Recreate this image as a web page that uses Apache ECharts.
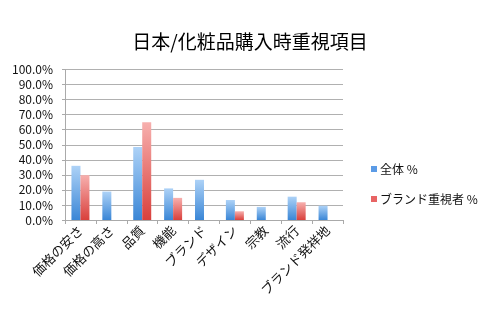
<!DOCTYPE html>
<html><head><meta charset="utf-8">
<script src="https://cdn.jsdelivr.net/npm/echarts@6/dist/echarts.min.js"></script>
<style>html,body{margin:0;padding:0;background:#fff}#c{width:500px;height:320px}</style>
</head><body><div id="c"></div>
<script>
const categories = ['価格の安さ','価格の高さ','品質','機能','ブランド','デザイン','宗教','流行','ブランド発祥地'];
const allValues = [36.0, 18.9, 48.5, 21.0, 26.7, 13.3, 8.7, 15.5, 9.5];
const brandValues = [29.8, null, 65.0, 14.7, null, 5.8, null, 11.8, null];
const seriesNames = ['全体 %', 'ブランド重視者 %'];
const titleText = '日本/化粧品購入時重視項目';

const font = '"Noto Sans CJK JP", "Noto Sans", sans-serif';
const chart = echarts.init(document.getElementById('c'), null, {renderer:'canvas'});
function grad(top, bottom){
  return new echarts.graphic.LinearGradient(0,0,0,1,[{offset:0,color:top},{offset:1,color:bottom}]);
}
chart.setOption({
  animation:false,
  textStyle:{fontFamily:font},
  title:{text:titleText,left:'center',top:27,textStyle:{fontFamily:font,fontSize:19,fontWeight:'normal',color:'#000'}},
  grid:{left:65,right:157,top:69.5,bottom:100,containLabel:false},
  legend:{
    orient:'vertical',left:366,top:158,itemWidth:6,itemHeight:6,itemGap:18,
    icon:'rect',
    textStyle:{fontFamily:font,fontSize:12,color:'#111',padding:[0,0,0,-2]},
    data:[{name:seriesNames[0],itemStyle:{color:'#5b9be6'}},{name:seriesNames[1],itemStyle:{color:'#e86464'}}]
  },
  xAxis:{
    type:'category',data:categories,
    axisLine:{lineStyle:{color:'#aaa'}},
    axisTick:{show:true,length:4,lineStyle:{color:'#aaa'}},
    axisLabel:{rotate:45,fontSize:13,color:'#111',fontFamily:font,margin:8,interval:0}
  },
  yAxis:{
    type:'value',min:0,max:100,interval:10,
    axisLine:{show:true,lineStyle:{color:'#aaa'}},
    axisTick:{show:true,length:3,lineStyle:{color:'#aaa'}},
    splitLine:{lineStyle:{color:'#b0b0b0',width:1}},
    axisLabel:{formatter:v=>v.toFixed(1)+'%',fontSize:12,color:'#111',fontFamily:font,margin:12}
  },
  series:[
    {name:seriesNames[0],type:'bar',data:allValues,barWidth:9,barGap:'0%',
     itemStyle:{color:grad('#add2f7','#3a86d6')}},
    {name:seriesNames[1],type:'bar',data:brandValues,barWidth:9,barGap:'0%',
     itemStyle:{color:grad('#f7b0ae','#d9403c')}}
  ]
});
</script></body></html>
